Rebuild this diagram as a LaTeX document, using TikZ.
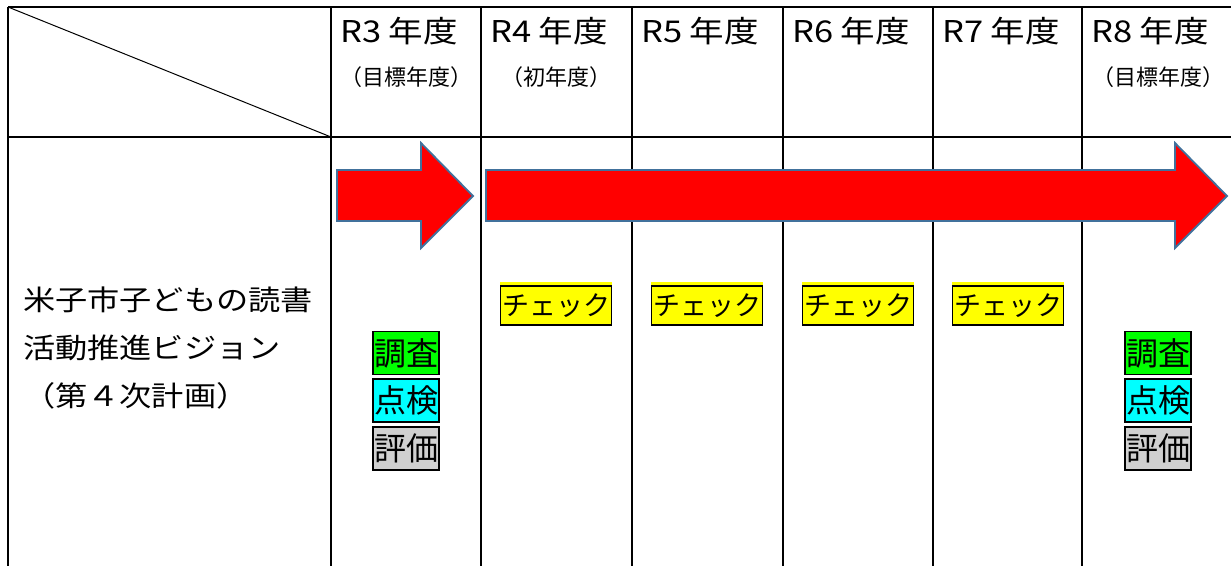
\documentclass[tikz,border=0pt]{standalone}
\usepackage{fontspec}
\setmainfont{Noto Sans CJK JP}
\newfontfamily\jpwide[FakeStretch=1.15]{Noto Sans CJK JP}
\usetikzlibrary{positioning}
\definecolor{arrowedge}{HTML}{41719C}
\definecolor{chkyellow}{HTML}{FFFF00}
\definecolor{srvgreen}{HTML}{00FF00}
\definecolor{inscyan}{HTML}{00FFFF}
\definecolor{evlgray}{HTML}{D0D0D0}

\begin{document}
\begin{tikzpicture}[
  grid/.style={line width=2bp},
  redarrow/.style={fill=red, draw=arrowedge, line width=1.8bp, line join=miter},
  year/.style={anchor=west, inner sep=0pt, font=\jpwide\fontsize{30bp}{32bp}\selectfont},
  note/.style={inner sep=0pt, font=\fontsize{22bp}{24bp}\selectfont},
  chkbox/.style={draw, line width=1.5bp, fill=chkyellow, inner xsep=1.5bp, inner ysep=0pt,
    minimum height=39bp, font=\fontsize{27bp}{29bp}\selectfont},
  tagbox/.style={draw, line width=1.5bp, inner xsep=1bp, inner ysep=0pt,
    minimum height=43bp, font=\fontsize{32bp}{34bp}\selectfont}
]
\useasboundingbox (0bp,0bp) rectangle (1231bp,-566bp);

% table
\draw [grid] (8bp,-7bp) -- (1231bp,-7bp);
\draw [grid] (8bp,-137bp) -- (1231bp,-137bp);
\foreach \x in {8,331,481,632,783,933,1082}
  \draw [grid] (\x bp,-7bp) -- (\x bp,-566bp);
\draw [line width=1bp] (8bp,-7bp) -- (331bp,-137bp);

% header
\foreach \x/\n in {331/3,481/4,632/5,783/6,933/7,1082/8}
  \node (y\n) at ({(\x+9)*1bp},-31bp)[year] {R\n\ 年度};
\node (n3) at (406bp,-77bp)[note] {（目標年度）};
\node (n4) at (556bp,-77bp)[note] {（初年度）};
\node (n8) at (1158bp,-77bp)[note] {（目標年度）};

% row label
\node (vision) at (23bp,-287bp)[anchor=north west, inner sep=0pt, align=left,
  font=\jpwide\fontsize{28bp}{48bp}\selectfont] {米子市子どもの読書\\活動推進ビジョン\\（第４次計画）};

% arrows
\draw [redarrow] (337bp,-170bp) -- (421bp,-170bp) -- (421bp,-143bp) -- (473bp,-196bp)
  -- (421bp,-248bp) -- (421bp,-221bp) -- (337bp,-221bp) -- cycle;
\draw [redarrow] (486bp,-170bp) -- (1175bp,-170bp) -- (1175bp,-143bp) -- (1227bp,-196bp)
  -- (1175bp,-248bp) -- (1175bp,-221bp) -- (486bp,-221bp) -- cycle;

% checks
\foreach \x [count=\i] in {556,707,858,1008} {
  \node (chk\i) at (\x bp,-305.5bp)[chkbox] {チェック};
  \fill [chkyellow] (chk\i.north west) rectangle ([yshift=3.5bp]chk\i.north east);
}

% survey / inspection / evaluation
\foreach \x/\s in {406/a,1158/b} {
  \node (srv\s) at (\x bp,-353bp)[tagbox, fill=srvgreen] {調査};
  \node (ins\s) at (\x bp,-400.5bp)[tagbox, fill=inscyan] {点検};
  \node (evl\s) at (\x bp,-448.5bp)[tagbox, fill=evlgray] {評価};
}
\end{tikzpicture}
\end{document}
